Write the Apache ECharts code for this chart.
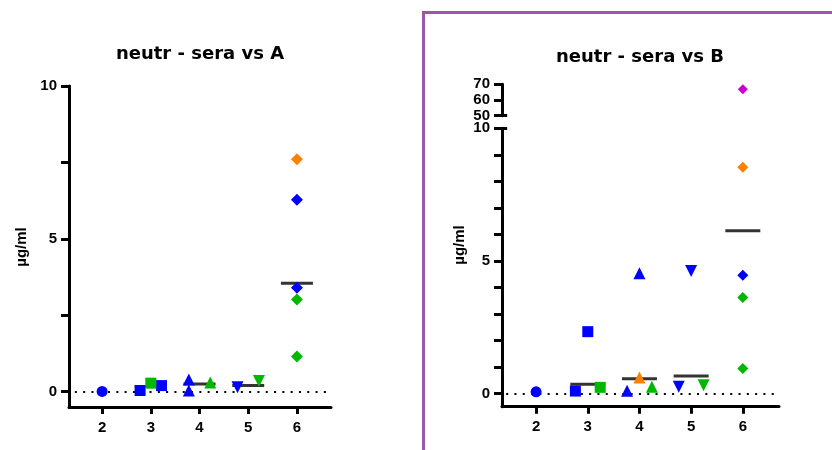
<!DOCTYPE html>
<html>
<head>
<meta charset="utf-8">
<script src="https://cdn.jsdelivr.net/npm/echarts@6/dist/echarts.min.js"></script>
<style>
html,body{margin:0;padding:0;background:#fff;}
#c{width:832px;height:450px;}
</style>
</head>
<body>
<div id="c"></div>
<script>
// ---------- data ----------
const categories = [2, 3, 4, 5, 6];
const yLabelsA = [0, 5, 10];
const yTicksA = [0, 2.5, 5, 7.5, 10];
const yLabelsBLow = [0, 5, 10];
const yTicksBLow = [0, 1, 2, 3, 4, 5, 6, 7, 8, 9, 10];
const yLabelsBHigh = [50, 60, 70];

// points: [category, slot (-1 left, 0 centre, +1 right), value in µg/ml]
const aBlueCircle   = [[2, 0, 0.01]];
const aBlueSquare   = [[3, -1, 0.04], [3, 1, 0.2]];
const aGreenSquare  = [[3, 0, 0.28]];
const aBlueUp       = [[4, -1, 0.4], [4, -1, 0.04]];
const aGreenUp      = [[4, 1, 0.3]];
const aBlueDown     = [[5, -1, 0.15]];
const aGreenDown    = [[5, 1, 0.35]];
const aOrangeDiam   = [[6, 0, 7.6]];
const aBlueDiam     = [[6, 0, 6.28], [6, 0, 3.4]];
const aGreenDiam    = [[6, 0, 3.02], [6, 0, 1.15]];
const aMean         = [[3, 0.17], [4, 0.25], [5, 0.2], [6, 3.55]];

const bBlueCircle   = [[2, 0, 0.06]];
const bBlueSquare   = [[3, -1, 0.09], [3, 0, 2.33]];
const bGreenSquare  = [[3, 1, 0.23]];
const bBlueUp       = [[4, -1, 0.1], [4, 0, 4.53]];
const bOrangeUp     = [[4, 0, 0.6]];
const bGreenUp      = [[4, 1, 0.25]];
const bBlueDown     = [[5, -1, 0.25], [5, 0, 4.62]];
const bGreenDown    = [[5, 1, 0.31]];
const bMagentaDiam  = [[6, 0, 66.8]];
const bOrangeDiam   = [[6, 0, 8.53]];
const bBlueDiam     = [[6, 0, 4.46]];
const bGreenDiam    = [[6, 0, 3.62], [6, 0, 0.94]];
const bMean         = [[3, 0.35], [4, 0.55], [5, 0.66], [6, 6.14]];

// ---------- style ----------
const BLUE = '#0000ff', GREEN = '#00b800', ORANGE = '#ff8000', MAGENTA = '#cc00cc';
const FONT = 'Liberation Sans, Arial, sans-serif';
const TFONT = 'DejaVu Sans, sans-serif';
const OFF_A = 0.22, OFF_B = 0.24;
const XA = [1.32, 6.7], XB = [1.34, 6.7];

const chart = echarts.init(document.getElementById('c'), null, {renderer: 'canvas'});

function pts(arr, off) { return arr.map(p => [p[0] + p[1] * off, p[2]]); }
function sc(name, arr, off, symbol, size, color, xi, yi, rot) {
  return {
    type: 'scatter', name: name, xAxisIndex: xi, yAxisIndex: yi,
    data: pts(arr, off), symbol: symbol, symbolSize: size, symbolRotate: rot || 0,
    itemStyle: {color: color, opacity: 1}, z: 5, silent: true
  };
}
function meanSeries(arr, w, xi, yi, zeroFrom, zeroTo) {
  return {
    type: 'scatter', xAxisIndex: xi, yAxisIndex: yi, data: arr,
    symbol: 'rect', symbolSize: [w, 3], itemStyle: {color: '#000'}, z: 3, silent: true,
    markLine: {
      silent: true, symbol: ['none', 'none'], label: {show: false},
      lineStyle: {type: [2, 6.3], color: '#000', width: 2},
      data: [[{coord: [zeroFrom, 0]}, {coord: [zeroTo, 0]}]]
    }
  };
}
const lblStyle = {color: '#000', fontFamily: FONT, fontWeight: 'bold', fontSize: 15};
const axLine = {show: true, onZero: false, lineStyle: {color: '#000', width: 3}};
function xAx(grid, range, show) {
  return {
    type: 'value', gridIndex: grid, min: range[0], max: range[1], show: show,
    axisLine: axLine, splitLine: {show: false},
    axisTick: {show: true, length: 7, customValues: categories, lineStyle: {color: '#000', width: 3}},
    axisLabel: Object.assign({customValues: categories, margin: 13}, lblStyle)
  };
}
function yAx(grid, min, max, ticks, labels) {
  return {
    type: 'value', gridIndex: grid, min: min, max: max,
    axisLine: axLine, splitLine: {show: false},
    axisTick: {show: true, length: 8, customValues: ticks, lineStyle: {color: '#000', width: 3}},
    axisLabel: Object.assign({customValues: labels, margin: 12}, lblStyle)
  };
}

const option = {
  animation: false,
  title: [
    {text: 'neutr - sera vs A', left: 195, top: 40, textAlign: 'center',
     textStyle: {fontFamily: TFONT, fontWeight: 'bold', fontSize: 18, color: '#000'}},
    {text: 'neutr - sera vs B', left: 635, top: 43, textAlign: 'center',
     textStyle: {fontFamily: TFONT, fontWeight: 'bold', fontSize: 18, color: '#000'}}
  ],
  grid: [
    {left: 69, top: 86, width: 262, height: 321},
    {left: 502, top: 128.3, width: 277, height: 278.4},
    {left: 502, top: 84.3, width: 277, height: 31.4}
  ],
  xAxis: [xAx(0, XA, true), xAx(1, XB, true), xAx(2, XB, false)],
  yAxis: [
    yAx(0, -0.5, 10, yTicksA, yLabelsA),
    yAx(1, -0.5, 10, yTicksBLow, yLabelsBLow),
    yAx(2, 50, 70, yLabelsBHigh, yLabelsBHigh)
  ],
  graphic: [
    {type: 'rect', shape: {x: 423.5, y: 12.5, width: 600, height: 600},
     style: {fill: 'none', stroke: '#9b57a8', lineWidth: 3}, silent: true},
    {type: 'text', x: 22, y: 247, rotation: Math.PI / 2,
     style: {text: 'µg/ml', fill: '#000', font: 'bold 15px ' + FONT, align: 'center', verticalAlign: 'middle'}},
    {type: 'text', x: 460, y: 245, rotation: Math.PI / 2,
     style: {text: 'µg/ml', fill: '#000', font: 'bold 15px ' + FONT, align: 'center', verticalAlign: 'middle'}}
  ],
  series: [
    meanSeries(aMean, 32, 0, 0, 1.44, 6.68),
    sc('a1', aBlueCircle, OFF_A, 'circle', 11, BLUE, 0, 0),
    sc('a2', aBlueSquare, OFF_A, 'rect', 11, BLUE, 0, 0),
    sc('a3', aGreenSquare, OFF_A, 'rect', 11, GREEN, 0, 0),
    sc('a4', aBlueUp, OFF_A, 'triangle', 12, BLUE, 0, 0),
    sc('a5', aGreenUp, OFF_A, 'triangle', 12, GREEN, 0, 0),
    sc('a6', aBlueDown, OFF_A, 'triangle', 12, BLUE, 0, 0, 180),
    sc('a7', aGreenDown, OFF_A, 'triangle', 12, GREEN, 0, 0, 180),
    sc('a8', aOrangeDiam, OFF_A, 'diamond', 12, ORANGE, 0, 0),
    sc('a9', aBlueDiam, OFF_A, 'diamond', 12, BLUE, 0, 0),
    sc('a10', aGreenDiam, OFF_A, 'diamond', 12, GREEN, 0, 0),

    meanSeries(bMean, 35, 1, 1, 1.42, 6.62),
    sc('b1', bBlueCircle, OFF_B, 'circle', 11, BLUE, 1, 1),
    sc('b2', bBlueSquare, OFF_B, 'rect', 11, BLUE, 1, 1),
    sc('b3', bGreenSquare, OFF_B, 'rect', 11, GREEN, 1, 1),
    sc('b4', bBlueUp, OFF_B, 'triangle', 12, BLUE, 1, 1),
    sc('b5', bOrangeUp, OFF_B, 'triangle', 12, ORANGE, 1, 1),
    sc('b6', bGreenUp, OFF_B, 'triangle', 12, GREEN, 1, 1),
    sc('b7', bBlueDown, OFF_B, 'triangle', 12, BLUE, 1, 1, 180),
    sc('b8', bGreenDown, OFF_B, 'triangle', 12, GREEN, 1, 1, 180),
    sc('b9', bOrangeDiam, OFF_B, 'diamond', 11, ORANGE, 1, 1),
    sc('b10', bBlueDiam, OFF_B, 'diamond', 11, BLUE, 1, 1),
    sc('b11', bGreenDiam, OFF_B, 'diamond', 11, GREEN, 1, 1),
    // upper segment of the broken axis, with break marks
    Object.assign(sc('b12', bMagentaDiam, OFF_B, 'diamond', 10, MAGENTA, 2, 2), {
      markLine: {silent: true, symbol: ['none', 'none'], label: {show: false},
        lineStyle: {type: 'solid', color: '#000', width: 3},
        data: [[{coord: [XB[0], 50]}, {coord: [XB[0] + 0.1, 50]}]]}
    }),
    {type: 'scatter', xAxisIndex: 1, yAxisIndex: 1, data: [], silent: true,
     markLine: {silent: true, symbol: ['none', 'none'], label: {show: false},
       lineStyle: {type: 'solid', color: '#000', width: 3},
       data: [[{coord: [XB[0], 10]}, {coord: [XB[0] + 0.1, 10]}]]}}
  ]
};
chart.setOption(option);
</script>
</body>
</html>
